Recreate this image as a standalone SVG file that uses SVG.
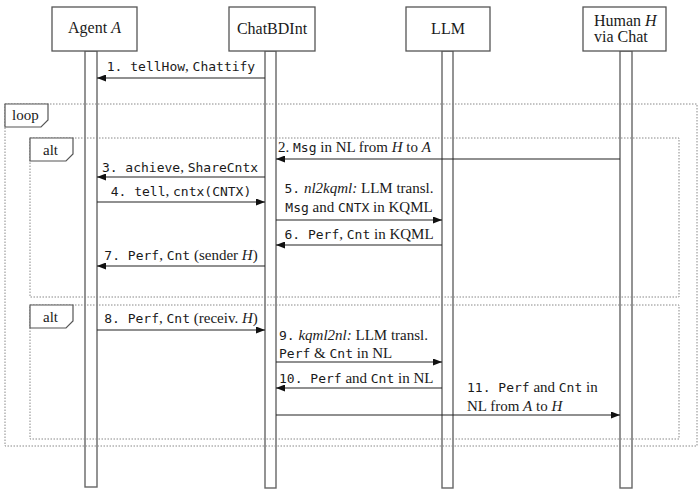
<svg xmlns="http://www.w3.org/2000/svg" width="699" height="495" viewBox="0 0 699 495">
<style>
.box{fill:#fff;stroke:#555;stroke-width:1.3}
.bar{fill:#fff;stroke:#666;stroke-width:1.4}
.frame{fill:none;stroke:#888;stroke-width:1;stroke-dasharray:1.5 1.5}
.tab{fill:#fff;stroke:#555;stroke-width:1.2}
.msg{stroke:#222;stroke-width:1.2;fill:none;marker-end:url(#ah)}
text{font-family:"Liberation Serif",serif;font-size:15px;fill:#1a1a1a}
.t{font-size:16px}
.m{font-family:"DejaVu Sans Mono","Liberation Mono",monospace;font-size:13px}
.i{font-style:italic}
</style>
<defs>
<marker id="ah" markerWidth="9" markerHeight="7" refX="9" refY="3.5" orient="auto" markerUnits="userSpaceOnUse">
<path d="M0,0 L9,3.5 L0,7 Z" fill="#111"/>
</marker>
</defs>
<g id="lifelines">
<rect class="bar" x="85" y="51" width="12" height="436"/>
<rect class="bar" x="265" y="51" width="11" height="437"/>
<rect class="bar" x="442" y="51" width="11" height="437"/>
<rect class="bar" x="620" y="51" width="12" height="437"/>
</g>
<g id="agentA"><rect class="box" x="52" y="7" width="85" height="44"/><text class="t" x="94.5" y="33" text-anchor="middle">Agent <tspan class="i">A</tspan></text></g>
<g id="chatbdint"><rect class="box" x="229" y="7" width="86" height="44"/><text class="t" x="272" y="34" text-anchor="middle">ChatBDInt</text></g>
<g id="llm"><rect class="box" x="406" y="7" width="84" height="44"/><text class="t" x="448" y="34" text-anchor="middle">LLM</text></g>
<g id="human"><rect class="box" x="583" y="7" width="83" height="44"/><text class="t" x="594" y="26">Human <tspan class="i">H</tspan></text><text class="t" x="594" y="42">via Chat</text></g>
<g id="loop">
<rect class="frame" x="5" y="104" width="692" height="342"/>
<path class="tab" d="M5,104 H48 V120 L41,127 H5 Z"/>
<text x="12" y="120">loop</text>
</g>
<g id="alt1">
<rect class="frame" x="30" y="138" width="649" height="159"/>
<path class="tab" d="M30,138 H73 V154 L66,161 H30 Z"/>
<text x="43" y="155">alt</text>
</g>
<g id="alt2">
<rect class="frame" x="30" y="305" width="649" height="134"/>
<path class="tab" d="M30,305 H73 V321 L66,328 H30 Z"/>
<text x="43" y="322">alt</text>
</g>
<g id="connectors">
<line class="msg" x1="265" y1="78" x2="97" y2="78"/>
<line class="msg" x1="620" y1="159" x2="276" y2="159"/>
<line class="msg" x1="265" y1="177" x2="97" y2="177"/>
<line class="msg" x1="97" y1="202" x2="265" y2="202"/>
<line class="msg" x1="276" y1="220" x2="442" y2="220"/>
<line class="msg" x1="442" y1="245" x2="276" y2="245"/>
<line class="msg" x1="265" y1="266" x2="97" y2="266"/>
<line class="msg" x1="97" y1="330" x2="265" y2="330"/>
<line class="msg" x1="276" y1="362" x2="442" y2="362"/>
<line class="msg" x1="442" y1="388" x2="276" y2="388"/>
<line class="msg" x1="276" y1="415" x2="620" y2="415"/>
</g>
<g id="labels">
<text x="181" y="71" text-anchor="middle"><tspan class="m">1. tellHow</tspan>, <tspan class="m">Chattify</tspan></text>
<text x="278" y="152">2. <tspan class="m">Msg</tspan> in NL from <tspan class="i">H</tspan> to <tspan class="i">A</tspan></text>
<text x="180" y="172" text-anchor="middle"><tspan class="m">3. achieve</tspan>, <tspan class="m">ShareCntx</tspan></text>
<text x="181" y="196" text-anchor="middle"><tspan class="m">4. tell</tspan>, <tspan class="m">cntx(CNTX)</tspan></text>
<text x="359" y="193" text-anchor="middle"><tspan class="m">5.</tspan> <tspan class="i">nl2kqml:</tspan> LLM transl.</text>
<text x="359" y="212" text-anchor="middle"><tspan class="m">Msg</tspan> and <tspan class="m">CNTX</tspan> in KQML</text>
<text x="359" y="239" text-anchor="middle"><tspan class="m">6. Perf</tspan>, <tspan class="m">Cnt</tspan> in KQML</text>
<text x="181" y="260" text-anchor="middle"><tspan class="m">7. Perf</tspan>, <tspan class="m">Cnt</tspan> (sender <tspan class="i">H</tspan>)</text>
<text x="181" y="323" text-anchor="middle"><tspan class="m">8. Perf</tspan>, <tspan class="m">Cnt</tspan> (receiv. <tspan class="i">H</tspan>)</text>
<text x="279" y="340"><tspan class="m">9.</tspan> <tspan class="i">kqml2nl:</tspan> LLM transl.</text>
<text x="279" y="358"><tspan class="m">Perf</tspan> &amp; <tspan class="m">Cnt</tspan> in NL</text>
<text x="279" y="383"><tspan class="m">10. Perf</tspan> and <tspan class="m">Cnt</tspan> in NL</text>
<text x="467" y="392"><tspan class="m">11. Perf</tspan> and <tspan class="m">Cnt</tspan> in</text>
<text x="467" y="411">NL from <tspan class="i">A</tspan> to <tspan class="i">H</tspan></text>
</g>
</svg>
